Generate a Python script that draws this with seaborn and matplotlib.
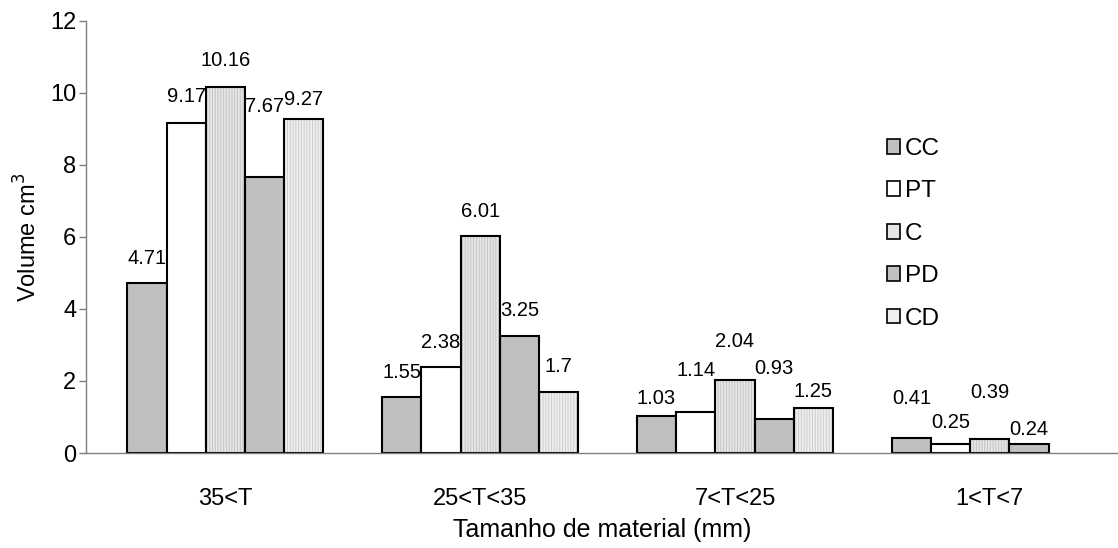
import matplotlib
matplotlib.use("Agg")
import matplotlib.pyplot as plt
from matplotlib.patches import Patch, Rectangle
import seaborn as sns
import pandas as pd

# ---- data ----
categories = ["35<T", "25<T<35", "7<T<25", "1<T<7"]
series = ["CC", "PT", "C", "PD", "CD"]
cc = [4.71, 1.55, 1.03, 0.41]
pt = [9.17, 2.38, 1.14, 0.25]
c_ = [10.16, 6.01, 2.04, 0.39]
pd_ = [7.67, 3.25, 0.93, 0.24]
cd = [9.27, 1.70, 1.25, None]
y_ticks = [0, 2, 4, 6, 8, 10, 12]

# ---- style ----
fills = {"CC": "#c0c0c0", "PT": "#ffffff", "C": "#e6e6e6", "PD": "#c0c0c0", "CD": "#efefef"}
stripes = {"C": "#c4c4c4", "CD": "#cdcdcd"}
# label vertical offsets (pixels above bar top, label centre), per series per category
label_gap = {
    "CC": [25, 25, 17, 40],
    "PT": [26, 25, 41, 21],
    "C": [26, 25, 38, 46],
    "PD": [70, 25, 51, 15],
    "CD": [20, 25, 16, None],
}

rows = []
for name, vals in zip(series, [cc, pt, c_, pd_, cd]):
    for cat, v in zip(categories, vals):
        if v is not None:
            rows.append({"cat": cat, "series": name, "val": v})
df = pd.DataFrame(rows)

sns.set_theme(style="white")
plt.rcParams["font.family"] = ["Liberation Sans", "DejaVu Sans"]
plt.rcParams["hatch.linewidth"] = 0.7
plt.rcParams["text.color"] = "black"
plt.rcParams["axes.labelcolor"] = "black"
plt.rcParams["xtick.labelcolor"] = "black"
plt.rcParams["ytick.labelcolor"] = "black"

fig = plt.figure(figsize=(11.18, 5.48), dpi=100)
ax = fig.add_axes([86 / 1118, 1 - 453 / 548, 1 - 86 / 1118, (453 - 20.7) / 548])

sns.barplot(data=df, x="cat", y="val", hue="series", order=categories,
            hue_order=series, palette=fills, saturation=1, width=0.77,
            edgecolor="black", linewidth=1.5, ax=ax, legend=False, errorbar=None)

for name, cont in zip(series, ax.containers):
    for p in cont.patches:
        h = p.get_height()
        if h != h:
            continue
        xc = p.get_x() + p.get_width() / 2
        ci = int(round(xc))
        if name in stripes:
            p.set_edgecolor(stripes[name])
            p.set_hatch("||||||")
            p.set_linewidth(0)
            ax.add_patch(Rectangle(p.get_xy(), p.get_width(), h, fill=False,
                                   edgecolor="black", linewidth=1.5, zorder=p.get_zorder() + 0.1))
        gap = label_gap[name][ci]
        ax.annotate(f"{h:g}", xy=(xc, h), xytext=(0, gap * 0.72), textcoords="offset points",
                    ha="center", va="center", fontsize=14.5, color="black")

ax.set_xlim(-0.547, 3.503)
ax.set_ylim(0, 12)
ax.set_yticks(y_ticks)
ax.set_yticklabels([str(t) for t in y_ticks], fontsize=17)
ax.set_xticks(range(len(categories)))
ax.set_xticklabels(categories, fontsize=17)
ax.set_xticks([0.5, 1.5, 2.5], minor=True)
ax.tick_params(axis="x", which="major", length=0, pad=25)
ax.tick_params(axis="x", which="minor", length=6, width=1, color="#808080", direction="out")
ax.tick_params(axis="y", length=5, width=1, color="#808080", direction="out", pad=2, left=True)

for s in ["top", "right"]:
    ax.spines[s].set_visible(False)
for s in ["left", "bottom"]:
    ax.spines[s].set_color("#808080")
    ax.spines[s].set_linewidth(1)

ax.set_xlabel("Tamanho de material (mm)", fontsize=18, labelpad=6)
ax.set_ylabel("Volume cm$^3$", fontsize=17, labelpad=6)

handles = [Patch(facecolor=fills[s], edgecolor="black", linewidth=1.2) for s in series]
fig.legend(handles, series, loc="upper left", bbox_to_anchor=(887 / 1118, 1 - 138 / 548),
           frameon=False, fontsize=17.5, handlelength=0.55, handleheight=0.55,
           handletextpad=0.2, labelspacing=0.84, borderpad=0, borderaxespad=0)

fig.savefig("out.png", dpi=100)
